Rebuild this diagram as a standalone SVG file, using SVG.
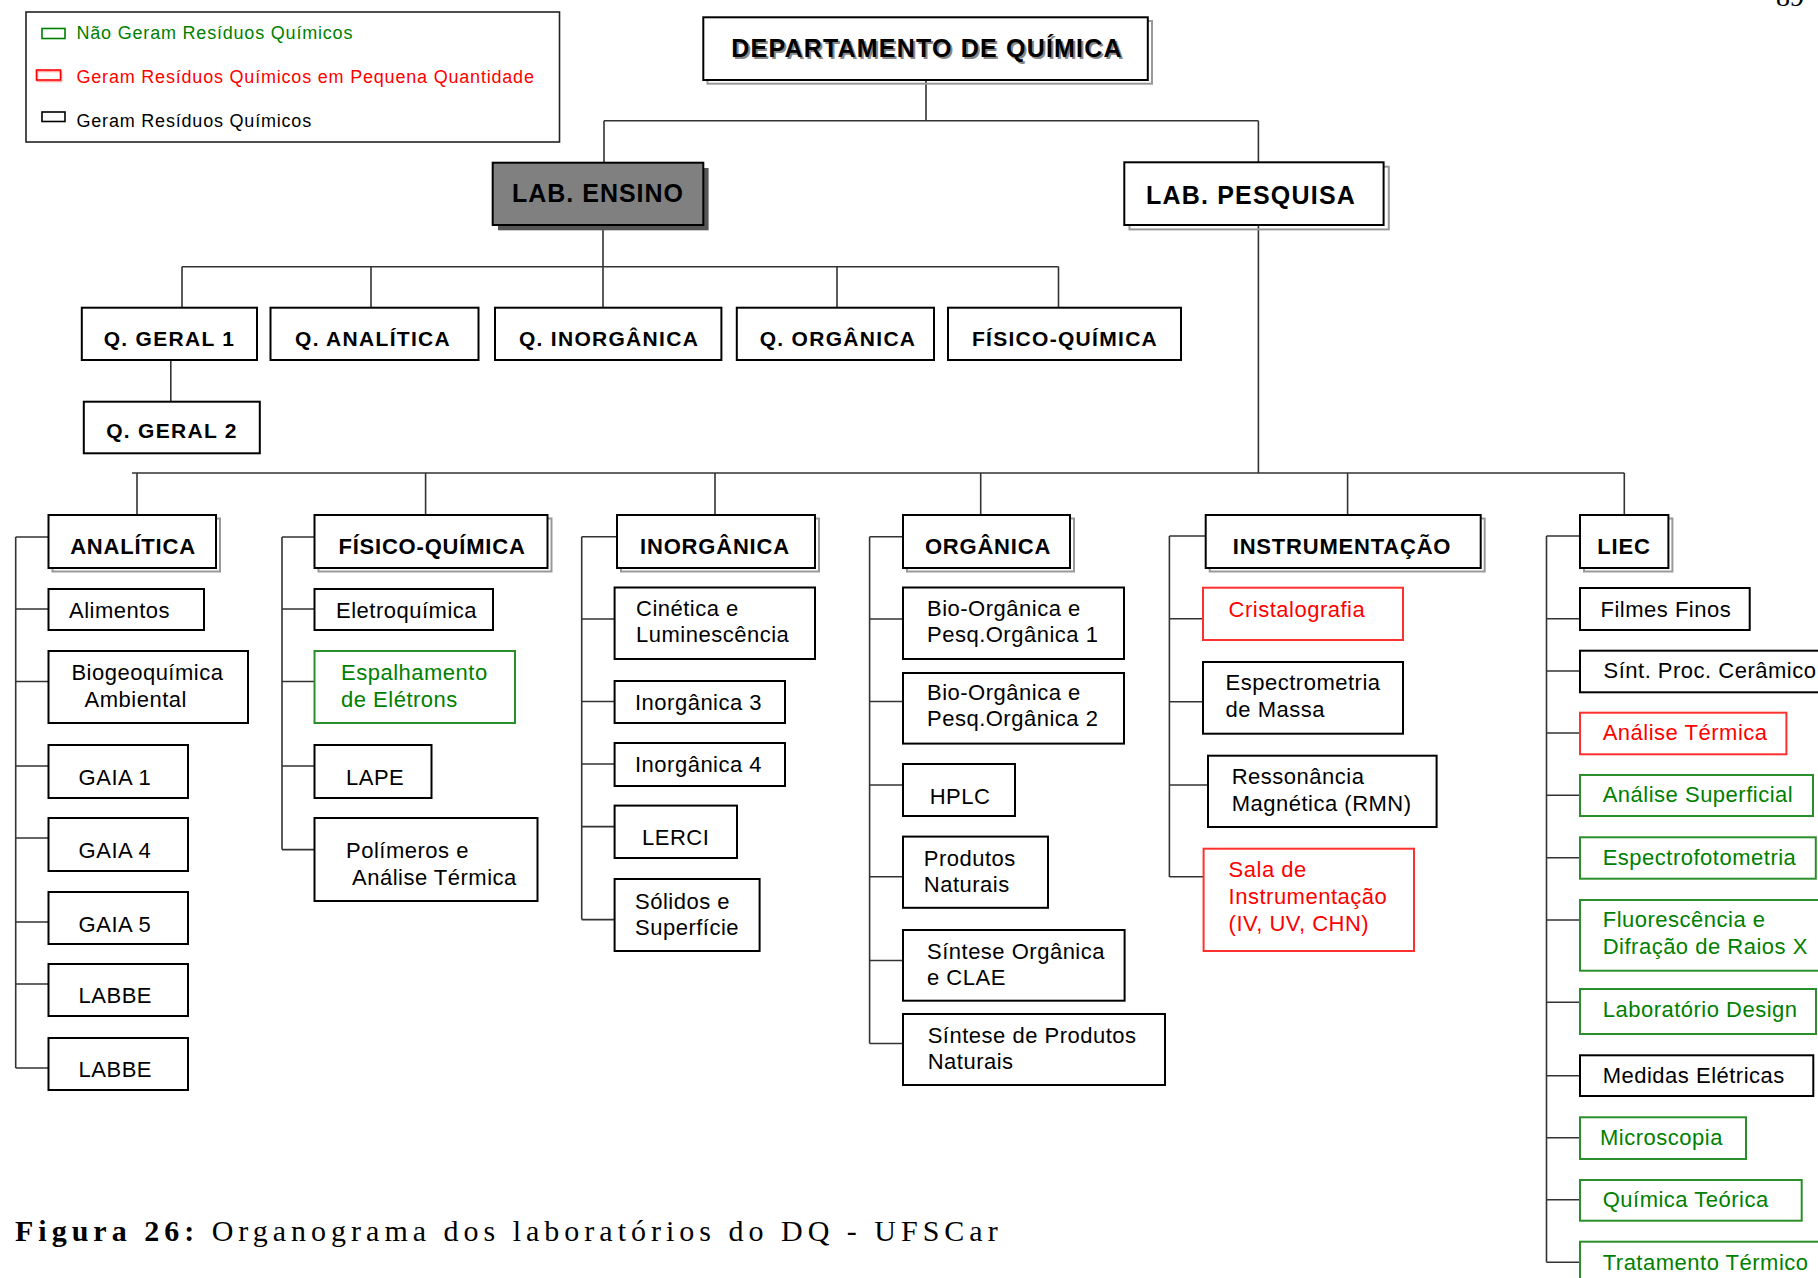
<svg xmlns="http://www.w3.org/2000/svg" width="1818" height="1278" viewBox="0 0 1818 1278">
<style>
.bx{fill:#fff;stroke:#000;stroke-width:2}
.bg{fill:#fff;stroke:#2a8f2a;stroke-width:2}
.br{fill:#fff;stroke:#ff3030;stroke-width:2}
.sh{fill:none;stroke:#999;stroke-width:2}
.ln{fill:none;stroke:#333;stroke-width:1.6}
text{font-family:"Liberation Sans",Arial,Helvetica,sans-serif;fill:#000}
.t{font-size:22px;letter-spacing:0.5px}
.tg{fill:#008000}
.tr{fill:#ff0000}
.hb{font-size:22px;font-weight:bold;letter-spacing:0.8px;text-anchor:middle}
.r2{font-size:21px;font-weight:bold;letter-spacing:1.3px;text-anchor:middle}
.top{font-size:25px;font-weight:bold;letter-spacing:1.2px;text-anchor:middle}
.lg{font-size:18px;letter-spacing:0.8px}
.cap{font-family:"Liberation Serif","Times New Roman",serif;font-size:30px;letter-spacing:5px}
</style>
<rect width="1818" height="1278" fill="#fff"/>
<text x="1776" y="6" style="font-family:'Liberation Serif',serif;font-size:28px">89</text>

<g id="legend">
<rect x="26" y="12" width="533.5" height="130" fill="#fff" stroke="#222" stroke-width="1.6"/>
<rect x="42" y="28.5" width="23" height="10" fill="none" stroke="#008000" stroke-width="1.6"/>
<text class="lg tg" x="76.5" y="39.3">Não Geram Resíduos Químicos</text>
<rect x="37.5" y="71.5" width="24" height="10" fill="none" stroke="#ffaaaa" stroke-width="1.6"/>
<rect x="36.5" y="70" width="24" height="10" fill="none" stroke="#ff0000" stroke-width="1.6"/>
<text class="lg tr" x="76.5" y="82.7">Geram Resíduos Químicos em Pequena Quantidade</text>
<rect x="42" y="112" width="23" height="9.5" fill="none" stroke="#000" stroke-width="1.6"/>
<text class="lg" x="76.5" y="126.7">Geram Resíduos Químicos</text>
</g>

<g id="connectors" class="ln">
<path d="M926,80V120.7M604,120.7H1258.4M604,120.7V162.7M1258.4,120.7V162.3"/>
<path d="M603,225V266.7M182,266.7H1058.5M182,266.7V307.7M371,266.7V307.7M603,266.7V307.7M837,266.7V307.7M1058.5,266.7V307.7"/>
<path d="M170.8,360V401.7"/>
<path d="M1258.4,225V473M132,473H1624.3M137,473V515M425.6,473V515M715,473V515M980.7,473V515M1347.6,473V515M1624.3,473V515"/>
<path d="M15.7,537V1068M15.7,537H48.5M15.7,609H48.5M15.7,681.5H48.5M15.7,766H48.5M15.7,838H48.5M15.7,922H48.5M15.7,984H48.5M15.7,1068H48.5"/>
<path d="M282,537V849.6M282,537H314.5M282,609H314.5M282,681.5H314.5M282,766H314.5M282,849.6H314.5"/>
<path d="M581.7,536.7V919.6M581.7,536.7H617M581.7,619H614.6M581.7,701.5H614.6M581.7,764H614.6M581.7,826.6H614.6M581.7,919.6H614.6"/>
<path d="M869.6,536.7V1043.5M869.6,536.7H903M869.6,619H903M869.6,701.5H903M869.6,785H903M869.6,876.8H903M869.6,960.5H903M869.6,1043.5H903"/>
<path d="M1169.4,536V877M1169.4,536H1205.7M1169.4,618.7H1203M1169.4,701.7H1203M1169.4,785H1208M1169.4,876.7H1203.6"/>
<path d="M1546.5,536V1262.3M1546.5,536H1580M1546.5,618.7H1580M1546.5,671H1580M1546.5,733H1580M1546.5,795.3H1580M1546.5,857.7H1580M1546.5,920H1580M1546.5,1002.3H1580M1546.5,1075.7H1580M1546.5,1137.7H1580M1546.5,1199.7H1580M1546.5,1262.3H1580"/>
</g>

<g id="dept">
<rect class="sh" x="707.5" y="21" width="444.5" height="62.7"/>
<rect class="bx" x="703.3" y="17.3" width="444.5" height="62.7"/>
<text class="top" x="929" y="59" style="fill:#888">DEPARTAMENTO DE QUÍMICA</text>
<text class="top" x="927" y="57">DEPARTAMENTO DE QUÍMICA</text>
</g>
<g id="lab-ensino">
<rect x="498" y="168" width="210.6" height="62.3" fill="#555"/>
<rect x="492.7" y="162.7" width="210.6" height="62.3" fill="#808080" stroke="#000" stroke-width="2"/>
<text class="top" x="598" y="202" style="letter-spacing:1px">LAB. ENSINO</text>
</g>
<g id="lab-pesquisa">
<rect class="sh" x="1129.5" y="166.7" width="259.3" height="62.7"/>
<rect class="bx" x="1124.3" y="162.3" width="259.3" height="62.7"/>
<text class="top" x="1251" y="204">LAB. PESQUISA</text>
</g>

<g id="q-geral-1"><rect class="bx" x="81.8" y="307.7" width="175.2" height="52.3"/><text class="r2" x="169.5" y="345.7">Q. GERAL 1</text></g>
<g id="q-analitica"><rect class="bx" x="270.5" y="307.7" width="208" height="52.3"/><text class="r2" x="373" y="345.7">Q. ANALÍTICA</text></g>
<g id="q-inorganica"><rect class="bx" x="495" y="307.7" width="226.4" height="52.3"/><text class="r2" x="609" y="345.7">Q. INORGÂNICA</text></g>
<g id="q-organica"><rect class="bx" x="736.8" y="307.7" width="197.2" height="52.3"/><text class="r2" x="838" y="345.7">Q. ORGÂNICA</text></g>
<g id="fisico-quimica-ensino"><rect class="bx" x="948" y="307.7" width="233" height="52.3"/><text class="r2" x="1065" y="345.7">FÍSICO-QUÍMICA</text></g>
<g id="q-geral-2"><rect class="bx" x="83.8" y="401.7" width="176" height="51.6"/><text class="r2" x="172" y="438.3">Q. GERAL 2</text></g>

<g id="analitica"><rect class="sh" x="52.5" y="518.5" width="167.5" height="53"/><rect class="bx" x="48.5" y="515" width="167.5" height="53"/><text class="hb" x="133" y="553.5">ANALÍTICA</text></g>
<g id="fisico-quimica"><rect class="sh" x="318.5" y="518.5" width="233" height="53"/><rect class="bx" x="314.5" y="515" width="233" height="53"/><text class="hb" x="432" y="553.5">FÍSICO-QUÍMICA</text></g>
<g id="inorganica"><rect class="sh" x="621" y="518.5" width="198" height="53"/><rect class="bx" x="617" y="515" width="198" height="53"/><text class="hb" x="715" y="553.5">INORGÂNICA</text></g>
<g id="organica"><rect class="sh" x="907" y="518.5" width="167" height="53"/><rect class="bx" x="903" y="515" width="167" height="53"/><text class="hb" x="988" y="553.5">ORGÂNICA</text></g>
<g id="instrumentacao"><rect class="sh" x="1209.7" y="518.5" width="275" height="53"/><rect class="bx" x="1205.7" y="515" width="275" height="53"/><text class="hb" x="1342" y="553.5">INSTRUMENTAÇÃO</text></g>
<g id="liec"><rect class="sh" x="1584" y="518.5" width="88.4" height="53"/><rect class="bx" x="1580" y="515" width="88.4" height="53"/><text class="hb" x="1624" y="553.5">LIEC</text></g>

<g id="alimentos"><rect class="bx" x="48.5" y="589" width="155.5" height="41"/><text class="t" x="69" y="618">Alimentos</text></g>
<g id="biogeoquimica"><rect class="bx" x="48.5" y="651" width="199.5" height="72"/><text class="t" x="71.4" y="680">Biogeoquímica</text><text class="t" x="84.6" y="706.5">Ambiental</text></g>
<g id="gaia-1"><rect class="bx" x="48.5" y="745" width="139.5" height="53"/><text class="t" x="78.6" y="785">GAIA 1</text></g>
<g id="gaia-4"><rect class="bx" x="48.5" y="818" width="139.5" height="53"/><text class="t" x="78.6" y="858">GAIA 4</text></g>
<g id="gaia-5"><rect class="bx" x="48.5" y="892" width="139.5" height="52"/><text class="t" x="78.6" y="932">GAIA 5</text></g>
<g id="labbe-1"><rect class="bx" x="48.5" y="964" width="139.5" height="52"/><text class="t" x="78.6" y="1003">LABBE</text></g>
<g id="labbe-2"><rect class="bx" x="48.5" y="1038" width="139.5" height="52"/><text class="t" x="78.6" y="1076.5">LABBE</text></g>

<g id="eletroquimica"><rect class="bx" x="314.5" y="589" width="178.5" height="41"/><text class="t" x="336" y="618">Eletroquímica</text></g>
<g id="espalhamento"><rect class="bg" x="314.5" y="651" width="200.5" height="72"/><text class="t tg" x="341" y="680">Espalhamento</text><text class="t tg" x="341" y="706.5">de Elétrons</text></g>
<g id="lape"><rect class="bx" x="314.5" y="745" width="117" height="53"/><text class="t" x="346" y="785">LAPE</text></g>
<g id="polimeros"><rect class="bx" x="314.5" y="818" width="223" height="83"/><text class="t" x="346" y="858">Polímeros e</text><text class="t" x="352" y="885">Análise Térmica</text></g>

<g id="cinetica"><rect class="bx" x="614.6" y="587.5" width="200.4" height="71.5"/><text class="t" x="636" y="616">Cinética e</text><text class="t" x="636" y="642">Luminescência</text></g>
<g id="inorganica-3"><rect class="bx" x="614.6" y="681" width="170.4" height="42"/><text class="t" x="635" y="710">Inorgânica 3</text></g>
<g id="inorganica-4"><rect class="bx" x="614.6" y="743" width="170.4" height="43"/><text class="t" x="635" y="772">Inorgânica 4</text></g>
<g id="lerci"><rect class="bx" x="614.6" y="805.6" width="122.4" height="52.4"/><text class="t" x="642" y="845">LERCI</text></g>
<g id="solidos"><rect class="bx" x="614.6" y="879" width="145" height="72"/><text class="t" x="635" y="909">Sólidos e</text><text class="t" x="635" y="935">Superfície</text></g>

<g id="bio-organica-1"><rect class="bx" x="903" y="587.5" width="221" height="71.5"/><text class="t" x="927" y="616">Bio-Orgânica e</text><text class="t" x="927" y="642">Pesq.Orgânica 1</text></g>
<g id="bio-organica-2"><rect class="bx" x="903" y="673" width="221" height="70.6"/><text class="t" x="927" y="700">Bio-Orgânica e</text><text class="t" x="927" y="726">Pesq.Orgânica 2</text></g>
<g id="hplc"><rect class="bx" x="903" y="764" width="112" height="52"/><text class="t" x="929.7" y="803.7">HPLC</text></g>
<g id="produtos-naturais"><rect class="bx" x="903" y="836.6" width="145" height="71.2"/><text class="t" x="923.8" y="865.7">Produtos</text><text class="t" x="923.8" y="891.7">Naturais</text></g>
<g id="sintese-organica"><rect class="bx" x="903" y="930" width="221.6" height="70.7"/><text class="t" x="927" y="958.6">Síntese Orgânica</text><text class="t" x="927" y="984.6">e CLAE</text></g>
<g id="sintese-produtos"><rect class="bx" x="903" y="1014" width="262" height="71"/><text class="t" x="927.7" y="1042.8">Síntese de Produtos</text><text class="t" x="927.7" y="1068.8">Naturais</text></g>

<g id="cristalografia"><rect class="br" x="1203" y="587.7" width="200" height="52.3"/><text class="t tr" x="1228.6" y="616.7">Cristalografia</text></g>
<g id="espectrometria"><rect class="bx" x="1203" y="662" width="200" height="71.7"/><text class="t" x="1225.6" y="690">Espectrometria</text><text class="t" x="1225.6" y="716.7">de Massa</text></g>
<g id="ressonancia"><rect class="bx" x="1208" y="755.7" width="228.6" height="71.3"/><text class="t" x="1231.7" y="784">Ressonância</text><text class="t" x="1231.7" y="810.7">Magnética (RMN)</text></g>
<g id="sala-instrumentacao"><rect class="br" x="1203.6" y="848.7" width="210.4" height="102.3"/><text class="t tr" x="1228.6" y="877.3">Sala de</text><text class="t tr" x="1228.6" y="904">Instrumentação</text><text class="t tr" x="1228.6" y="930.7">(IV, UV, CHN)</text></g>

<g id="filmes-finos"><rect class="bx" x="1580" y="588" width="169.7" height="42"/><text class="t" x="1600.5" y="616.7">Filmes Finos</text></g>
<g id="sint-proc-ceramico"><rect class="bx" x="1580" y="650.7" width="250" height="41.6"/><text class="t" x="1603.5" y="678.3">Sínt. Proc. Cerâmico</text></g>
<g id="analise-termica"><rect class="br" x="1580" y="712.7" width="206.4" height="41.6"/><text class="t tr" x="1602.7" y="740">Análise Térmica</text></g>
<g id="analise-superficial"><rect class="bg" x="1580" y="775" width="233" height="41"/><text class="t tg" x="1602.7" y="801.7">Análise Superficial</text></g>
<g id="espectrofotometria"><rect class="bg" x="1580" y="837.3" width="235.8" height="41.4"/><text class="t tg" x="1602.7" y="865">Espectrofotometria</text></g>
<g id="fluorescencia"><rect class="bg" x="1580" y="900" width="250" height="70.7"/><text class="t tg" x="1602.7" y="926.7">Fluorescência e</text><text class="t tg" x="1602.7" y="954">Difração de Raios X</text></g>
<g id="laboratorio-design"><rect class="bg" x="1580" y="989" width="236" height="45"/><text class="t tg" x="1602.7" y="1016.7">Laboratório Design</text></g>
<g id="medidas-eletricas"><rect class="bx" x="1580" y="1055.3" width="233.3" height="40.7"/><text class="t" x="1602.7" y="1082.7">Medidas Elétricas</text></g>
<g id="microscopia"><rect class="bg" x="1580" y="1117.3" width="166" height="41.7"/><text class="t tg" x="1600" y="1145">Microscopia</text></g>
<g id="quimica-teorica"><rect class="bg" x="1580" y="1180" width="221.7" height="40.7"/><text class="t tg" x="1602.7" y="1206.7">Química Teórica</text></g>
<g id="tratamento-termico"><rect class="bg" x="1580" y="1241.7" width="250" height="60"/><text class="t tg" x="1602.7" y="1270">Tratamento Térmico</text></g>

<text class="cap" x="15" y="1241"><tspan font-weight="bold">Figura 26:</tspan> Organograma dos laboratórios do DQ - UFSCar</text>
</svg>
